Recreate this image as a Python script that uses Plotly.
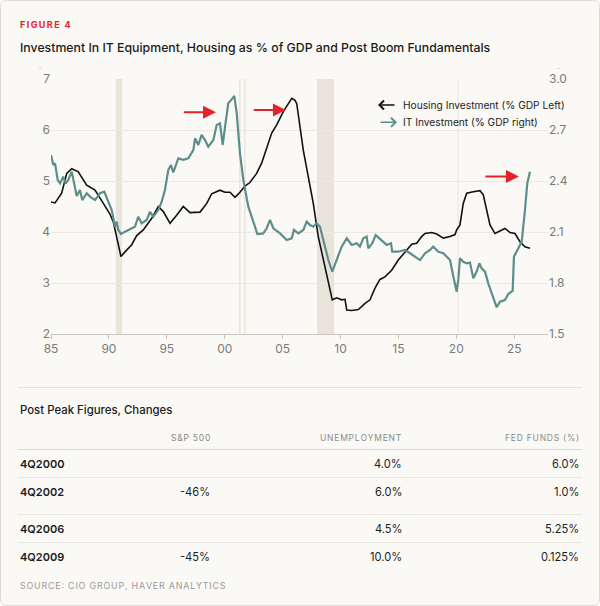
import plotly.graph_objects as go

W, H = 600, 606

# housing investment, % of GDP (left axis)
housing_year = [1985.00, 1985.35, 1985.92, 1986.36, 1986.79, 1987.36, 1988.08, 1988.80, 1989.52,
                1990.09, 1990.38, 1991.04, 1991.39, 1991.97, 1992.40, 1992.97, 1993.70, 1994.27,
                1994.70, 1995.28, 1995.85, 1996.42, 1997.00, 1997.87, 1998.45, 1998.88, 1999.59,
                2000.03, 2000.46, 2000.89, 2001.32, 2001.75, 2002.18, 2002.76, 2003.19, 2003.63,
                2004.06, 2004.49, 2005.06, 2005.79, 2006.07, 2006.22, 2006.50, 2006.79, 2007.22,
                2007.65, 2008.08, 2008.52, 2008.95, 2009.29, 2009.67, 2010.10, 2010.39, 2010.54,
                2010.97, 2011.54, 2012.12, 2012.55, 2012.98, 2013.41, 2013.84, 2014.42, 2014.99,
                2015.57, 2016.15, 2016.58, 2017.01, 2017.30, 2017.88, 2018.31, 2018.88, 2019.46,
                2019.89, 2020.03, 2020.32, 2020.60, 2020.90, 2021.47, 2022.05, 2022.33, 2022.63,
                2022.91, 2023.34, 2023.77, 2024.20, 2024.64, 2025.07, 2025.50, 2025.93, 2026.36]
housing_pct = [4.59, 4.57, 4.76, 5.15, 5.24, 5.18, 4.92, 4.82, 4.56,
               4.35, 4.20, 3.52, 3.61, 3.75, 3.93, 4.04, 4.27, 4.50,
               4.40, 4.17, 4.33, 4.50, 4.38, 4.39, 4.56, 4.75, 4.82,
               4.78, 4.78, 4.68, 4.78, 4.90, 4.97, 5.15, 5.35, 5.64,
               5.94, 6.10, 6.36, 6.62, 6.58, 6.52, 6.07, 5.60, 5.08,
               4.56, 3.91, 3.45, 2.99, 2.67, 2.71, 2.67, 2.68, 2.47,
               2.46, 2.48, 2.60, 2.67, 2.90, 3.07, 3.12, 3.25, 3.45,
               3.61, 3.76, 3.78, 3.91, 3.97, 3.99, 3.96, 3.88, 3.91,
               3.95, 4.04, 4.14, 4.56, 4.76, 4.79, 4.81, 4.73, 4.43,
               4.14, 3.97, 4.02, 4.07, 3.99, 3.97, 3.81, 3.71, 3.68]

# IT equipment investment, % of GDP (right axis)
it_year = [1985.00, 1985.20, 1985.35, 1985.58, 1985.78, 1986.06, 1986.27, 1986.49, 1986.79,
           1987.01, 1987.22, 1987.50, 1987.70, 1988.08, 1988.37, 1988.80, 1989.23, 1989.60,
           1989.95, 1990.24, 1990.53, 1990.67, 1990.81, 1991.04, 1991.39, 1991.82, 1992.25,
           1992.54, 1992.83, 1993.26, 1993.55, 1993.83, 1994.27, 1994.56, 1994.84, 1995.13,
           1995.36, 1995.56, 1995.99, 1996.42, 1996.86, 1997.29, 1997.44, 1997.72, 1998.01,
           1998.30, 1998.58, 1999.02, 1999.31, 1999.59, 1999.83, 2000.03, 2000.31, 2000.60,
           2000.83, 2001.04, 2001.32, 2001.61, 2002.04, 2002.42, 2002.82, 2003.33, 2003.63,
           2003.91, 2004.20, 2004.78, 2005.35, 2005.79, 2005.98, 2006.36, 2006.79, 2007.08,
           2007.37, 2007.65, 2007.94, 2008.23, 2008.52, 2008.95, 2009.29, 2009.67, 2010.10,
           2010.54, 2010.97, 2011.40, 2011.68, 2011.97, 2012.26, 2012.40, 2012.75, 2013.04,
           2013.56, 2013.99, 2014.36, 2014.47, 2014.99, 2015.57, 2016.00, 2016.43, 2016.87,
           2017.30, 2017.73, 2018.01, 2018.45, 2018.88, 2019.46, 2019.75, 2020.03, 2020.17,
           2020.32, 2020.60, 2020.90, 2021.18, 2021.47, 2021.76, 2021.99, 2022.19, 2022.48,
           2022.76, 2023.06, 2023.49, 2023.77, 2024.20, 2024.49, 2024.87, 2024.98, 2025.27,
           2025.65, 2025.93, 2026.13, 2026.36]
it_pct = [2.553, 2.494, 2.504, 2.406, 2.386, 2.425, 2.386, 2.406, 2.455,
          2.386, 2.312, 2.347, 2.288, 2.328, 2.308, 2.288, 2.328, 2.337,
          2.278, 2.229, 2.131, 2.161, 2.112, 2.088, 2.102, 2.116, 2.131,
          2.190, 2.151, 2.171, 2.219, 2.190, 2.229, 2.278, 2.347, 2.465,
          2.494, 2.450, 2.533, 2.524, 2.533, 2.582, 2.651, 2.612, 2.671,
          2.641, 2.602, 2.641, 2.729, 2.739, 2.612, 2.719, 2.857, 2.880,
          2.900, 2.798, 2.563, 2.406, 2.249, 2.171, 2.088, 2.092, 2.122,
          2.171, 2.122, 2.092, 2.053, 2.063, 2.112, 2.092, 2.112, 2.161,
          2.141, 2.131, 2.151, 2.131, 2.053, 1.935, 1.867, 1.935, 2.014,
          2.063, 2.024, 2.034, 2.014, 2.063, 2.073, 2.004, 2.034, 2.082,
          2.053, 2.024, 2.034, 1.984, 1.984, 1.994, 1.975, 1.955, 1.935,
          1.975, 1.994, 2.014, 1.984, 1.975, 1.935, 1.837, 1.749, 1.818,
          1.945, 1.925, 1.916, 1.920, 1.828, 1.867, 1.916, 1.886, 1.867,
          1.798, 1.739, 1.657, 1.690, 1.700, 1.735, 1.755, 1.955, 1.994,
          2.043, 2.229, 2.386, 2.455]

# recession bands
rec_start = [1990.60, 2001.25, 2001.68, 2007.98, 2020.10]
rec_end = [1991.13, 2001.37, 2001.80, 2009.45, 2020.20]

# red arrows: (tail year, tip year, level on left axis)
arrow_tail = [1996.34, 2002.38, 2022.39]
arrow_tip = [1999.25, 2005.29, 2025.41]
arrow_level = [6.35, 6.39, 5.09]

x_ticks = [1985, 1990, 1995, 2000, 2005, 2010, 2015, 2020, 2025]
x_labels = ["85", "90", "95", "00", "05", "10", "15", "20", "25"]
left_ticks = [2, 3, 4, 5, 6, 7]
right_ticks = [1.5, 1.8, 2.1, 2.4, 2.7, 3.0]

# table
col_headers = ["S&P 500", "UNEMPLOYMENT", "FED FUNDS (%)"]
row_labels = ["4Q2000", "4Q2002", "4Q2006", "4Q2009"]
sp500 = ["", "-46%", "", "-45%"]
unemployment = ["4.0%", "6.0%", "4.5%", "10.0%"]
fed_funds = ["6.0%", "1.0%", "5.25%", "0.125%"]

BG = "#FAF9F5"
TEAL = "#5E8E8C"
BLACK = "#111111"
RED = "#E3222B"
GRID = "#ECE9E3"
TICK = "#7B7B7B"
FONT = "Inter"


def px(x):
    return x / W


def py(y):
    return 1 - y / H


def spaced(s, sep="\u200a"):
    return sep.join(s)


fig = go.Figure()

fig.add_trace(go.Scatter(x=housing_year, y=housing_pct, mode="lines",
                         line=dict(color=BLACK, width=1.6), yaxis="y", showlegend=False))
fig.add_trace(go.Scatter(x=it_year, y=it_pct, mode="lines",
                         line=dict(color=TEAL, width=2.2), yaxis="y2", showlegend=False))

shapes = []
# card
r = 6
x0, x1, y0, y1 = 0.5, W - 0.5, 0.5, H - 0.5
path = (f"M {px(x0 + r)},{py(y0)} L {px(x1 - r)},{py(y0)} Q {px(x1)},{py(y0)} {px(x1)},{py(y0 + r)} "
        f"L {px(x1)},{py(y1 - r)} Q {px(x1)},{py(y1)} {px(x1 - r)},{py(y1)} "
        f"L {px(x0 + r)},{py(y1)} Q {px(x0)},{py(y1)} {px(x0)},{py(y1 - r)} "
        f"L {px(x0)},{py(y0 + r)} Q {px(x0)},{py(y0)} {px(x0 + r)},{py(y0)} Z")
shapes.append(dict(type="path", path=path, xref="paper", yref="paper", fillcolor=BG,
                   line=dict(color="#DEDBD5", width=1), layer="below"))

for a, b in zip(rec_start, rec_end):
    shapes.append(dict(type="rect", xref="x", yref="y domain", x0=a, x1=b, y0=0, y1=1,
                       fillcolor="#E9E4DA", line=dict(width=0), layer="below"))

# table rules
for yy, col in [(387.5, "#E6E3DD"), (449.5, "#DCD9D3"), (477.5, "#E9E6E0"),
                (514.5, "#E9E6E0"), (542.5, "#E9E6E0")]:
    shapes.append(dict(type="line", xref="paper", yref="paper", x0=px(18), x1=px(582),
                       y0=py(yy), y1=py(yy), line=dict(color=col, width=1.2)))

ann = []


def text(x, y, s, size, color="#1E1E1E", anchor="left", weight=400):
    ann.append(dict(x=px(x), y=py(y), xref="paper", yref="paper", text=s, showarrow=False,
                    xanchor=anchor, yanchor="middle",
                    font=dict(family=FONT, size=size, color=color, weight=weight)))


text(18, 24, spaced("FIGURE 4", "\u2009"), 9, RED, weight=700)
text(18, 47.5, "Investment In IT Equipment, Housing as % of GDP and Post Boom Fundamentals",
     12.3, "#1C1C1C", weight=500)
text(40, 67, "..", 5, "#A8A8A8", "center")
text(558, 67, "..", 5, "#A8A8A8", "center")

# legend
text(400.5, 104.5, "Housing Investment (% GDP Left)", 10.2, "#222222")
text(400.5, 121.8, "IT Investment (% GDP right)", 10.2, "#222222")
ann.append(dict(x=px(378), y=py(105), xref="paper", yref="paper", ax=18, ay=0, text="",
                showarrow=True, arrowhead=4, arrowsize=1.1, arrowwidth=1.6, arrowcolor=BLACK))
ann.append(dict(x=px(397), y=py(122.3), xref="paper", yref="paper", ax=-18, ay=0, text="",
                showarrow=True, arrowhead=4, arrowsize=1.1, arrowwidth=1.6, arrowcolor=TEAL))

for t0, t1, lv in zip(arrow_tail, arrow_tip, arrow_level):
    ann.append(dict(x=t1, y=lv, xref="x", yref="y", ax=t0, ay=lv, axref="x", ayref="y",
                    text="", showarrow=True, arrowhead=2, arrowsize=1.3, arrowwidth=2,
                    arrowcolor=RED))

# table text
text(18, 410, "Post Peak Figures, Changes", 11.4, "#1C1C1C", weight=500)
col_right = [211.6, 403.7, 581]
for cx, h in zip(col_right, col_headers):
    text(cx, 438, spaced(h), 8.5, "#8A8A8A", "right")
row_y = [463.5, 491.8, 528.5, 556.8]
for ry, lab, a, b, c in zip(row_y, row_labels, sp500, unemployment, fed_funds):
    text(18, ry, lab, 11, "#1C1C1C", weight=600)
    for cx, v in zip(col_right, [a, b, c]):
        if v:
            text(cx, ry, v, 11.1, "#1C1C1C", "right")

text(18, 585, spaced("SOURCE: CIO GROUP, HAVER ANALYTICS"), 8.9, "#9A9A9A")

fig.update_layout(
    width=W, height=H,
    margin=dict(l=0, r=0, t=0, b=0),
    paper_bgcolor="white",
    plot_bgcolor="rgba(0,0,0,0)",
    shapes=shapes,
    annotations=ann,
    showlegend=False,
    font=dict(family=FONT, color=TICK),
    xaxis=dict(domain=[px(51), px(548)], range=[1985, 2027.92], tickvals=x_ticks,
               ticktext=x_labels, showgrid=False, zeroline=False, showline=True,
               linecolor="#C9C6C0", linewidth=1, ticks="outside", ticklen=4,
               tickcolor="#C9C6C0", tickfont=dict(size=12, color=TICK), automargin=False),
    yaxis=dict(domain=[1 - 334 / H, 1 - 79 / H], range=[2, 7], tickvals=left_ticks,
               showgrid=True, gridcolor=GRID, gridwidth=1, zeroline=False, showline=False,
               ticks="", tickfont=dict(size=12, color=TICK), automargin=False),
    yaxis2=dict(overlaying="y", side="right", anchor="x", range=[1.5, 3.0],
                tickvals=right_ticks, tickformat=".1f", showgrid=False, zeroline=False,
                showline=False, ticks="", tickfont=dict(size=12, color=TICK),
                automargin=False),
)

fig.write_html("out.html", config={"displayModeBar": False},
               post_script="document.body.style.margin = '0';")
